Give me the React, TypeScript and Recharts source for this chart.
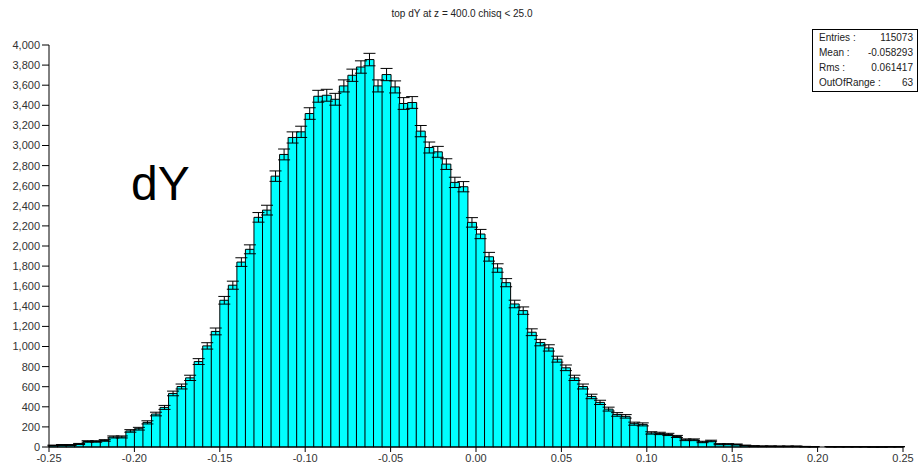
import { ComposedChart, Bar, Line, XAxis, YAxis, ErrorBar } from 'recharts';

// histogram binning: 100 bins from -0.25 to 0.25
const binLow = -0.25;
const binWidth = 0.005;

const counts = [
  15, 20, 20, 30, 55, 55, 65, 100, 100, 160,
  182, 245, 328, 394, 533, 602, 688, 850, 1006, 1150,
  1460, 1610, 1840, 1967, 2285, 2357, 2695, 2911, 3080, 3136,
  3318, 3490, 3500, 3460, 3593, 3699, 3781, 3855, 3593, 3706,
  3583, 3418, 3428, 3143, 2980, 2937, 2815, 2633, 2590, 2235,
  2119, 1893, 1781, 1635, 1423, 1357, 1142, 1039, 986, 874,
  788, 688, 602, 503, 444, 377, 324, 305, 232, 225,
  140, 135, 125, 105, 72, 72, 50, 60, 28, 28,
  25, 15, 10, 8, 8, 7, 7, 7, 4, 3,
  0, 3, 3, 3, 3, 3, 1, 1, 3, 3,
];

const xTicks = [-0.25, -0.2, -0.15, -0.1, -0.05, 0, 0.05, 0.1, 0.15, 0.2, 0.25];
const yTicks = [
  0, 200, 400, 600, 800, 1000, 1200, 1400, 1600, 1800, 2000,
  2200, 2400, 2600, 2800, 3000, 3200, 3400, 3600, 3800, 4000,
];

const statLabels = ['Entries :', 'Mean :', 'Rms :', 'OutOfRange :'];
const statValues = ['115073', '-0.058293', '0.061417', '63'];

const title = 'top dY at z = 400.0 chisq < 25.0';

const data = counts.map((c, i) => ({
  x: +(binLow + (i + 0.5) * binWidth).toFixed(4),
  count: c,
  err: Math.sqrt(c),
}));

const font = "'Liberation Sans', Arial, sans-serif";
const tickStyle = { fill: '#333', fontSize: 11, fontFamily: font };

export default function App() {
  return (
    <div style={{ position: 'absolute', left: 0, top: 0, width: 924, height: 472, background: '#fff', fontFamily: font }}>
      <ComposedChart
        width={924}
        height={472}
        data={data}
        margin={{ top: 45, right: 21, bottom: 0, left: 0 }}
        barCategoryGap={0}
        barGap={0}
      >
        <XAxis xAxisId="bins" dataKey="x" hide height={0} />
        <XAxis
          xAxisId="num"
          type="number"
          dataKey="x"
          domain={[-0.25, 0.25]}
          ticks={xTicks}
          tickFormatter={(v: number) => v.toFixed(2)}
          allowDataOverflow
          height={25}
          tickSize={5}
          stroke="#000"
          tick={tickStyle}
        />
        <YAxis
          domain={[0, 4000]}
          ticks={yTicks}
          tickFormatter={(v: number) => v.toLocaleString('en-US')}
          width={49}
          tickSize={7}
          stroke="#000"
          tick={tickStyle}
          interval={0}
        />
        <Bar xAxisId="bins" dataKey="count" fill="#00ffff" stroke="#000" strokeWidth={1} isAnimationActive={false}>
          <ErrorBar dataKey="err" width={6} stroke="#000" strokeWidth={1} direction="y" isAnimationActive={false} />
        </Bar>
        <Line xAxisId="num" dataKey="count" stroke="none" dot={false} activeDot={false} isAnimationActive={false} />
      </ComposedChart>

      <div style={{ position: 'absolute', left: 0, width: 924, top: 8.5, textAlign: 'center', fontSize: 10, lineHeight: '10px', color: '#222' }}>
        {title}
      </div>

      <div style={{ position: 'absolute', left: 131, top: 160, fontSize: 48, lineHeight: '48px', color: '#000' }}>dY</div>

      <div
        style={{
          position: 'absolute',
          left: 812,
          top: 29,
          width: 104,
          border: '1px solid #000',
          background: '#fff',
          fontSize: 10,
          color: '#222',
          paddingBottom: 1,
        }}
      >
        {statLabels.map((l, i) => (
          <div key={l} style={{ display: 'flex', justifyContent: 'space-between', lineHeight: '15px', padding: '0 4px 0 6px' }}>
            <span>{l}</span>
            <span>{statValues[i]}</span>
          </div>
        ))}
      </div>
    </div>
  );
}
